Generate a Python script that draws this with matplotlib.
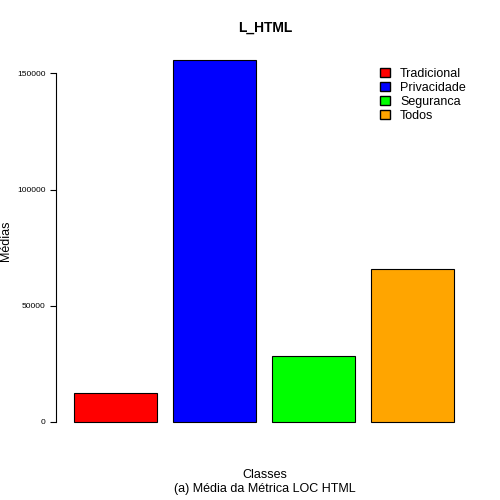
import matplotlib.pyplot as plt
from matplotlib.patches import Patch

plt.rcParams["font.family"] = ["Liberation Sans", "DejaVu Sans"]

classes = ["Tradicional", "Privacidade", "Seguranca", "Todos"]
medias = [12500, 156000, 28400, 65800]
cores = ["#FF0000", "#0000FF", "#00FF00", "#FFA500"]
yticks = [0, 50000, 100000, 150000]

fig = plt.figure(figsize=(5, 5), dpi=100)
ax = fig.add_axes([0.118, 0.127, 0.82, 0.783])

xpos = [0.7 + 1.2 * i for i in range(len(medias))]
ax.bar(xpos, medias, width=1.0, color=cores, edgecolor="black", linewidth=0.8)
ax.set_xlim(0.016, 4.984)
ax.set_ylim(-6240, 162240)

for s in ["top", "right", "bottom"]:
    ax.spines[s].set_visible(False)
ax.spines["left"].set_bounds(0, 150000)
ax.spines["left"].set_position(("outward", 2))
ax.set_xticks([])
ax.set_yticks(yticks)
ax.set_yticklabels([str(v) for v in yticks], fontsize=6)
ax.tick_params(axis="y", length=4, width=0.8)

ax.set_ylabel("Médias", fontsize=9)
ax.yaxis.set_label_coords(-0.11, 0.5, transform=None)
ax.yaxis.label.set_position((0, 0.5))
ax.yaxis.set_label_coords(-0.115, 0.5)
fig.text(0.53, 0.936, "L_HTML", ha="center", fontsize=10, fontweight="bold")
fig.text(0.53, 0.044, "Classes", ha="center", fontsize=9)
fig.text(0.53, 0.016, "(a) Média da Métrica LOC HTML", ha="center", fontsize=9)

handles = [Patch(facecolor=c, edgecolor="black", label=l) for c, l in zip(cores, classes)]
fig.legend(handles=handles, loc="upper left", bbox_to_anchor=(0.75, 0.875),
           frameon=False, fontsize=9, handlelength=0.8, handleheight=0.8,
           labelspacing=0.15, handletextpad=0.8, borderaxespad=0)

fig.savefig("out.png")
